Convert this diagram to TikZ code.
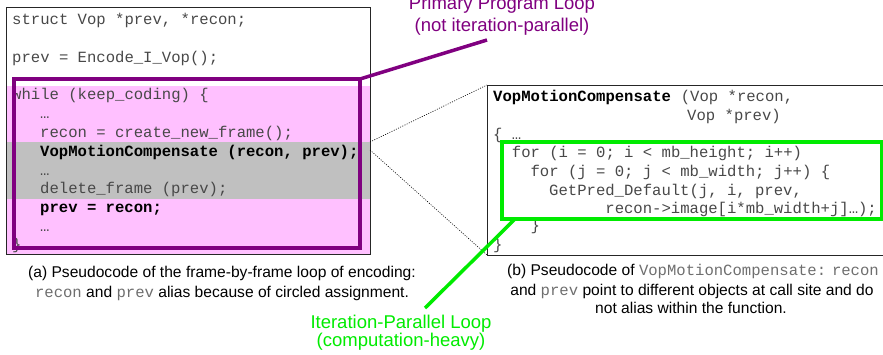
\documentclass[tikz,border=0pt]{standalone}
\usepackage{fontspec}
\setmainfont{Liberation Sans}
\newfontfamily\codefont{Liberation Mono}[WordSpace={1,0,0}]

\definecolor{loopfill}{RGB}{255,192,255}
\definecolor{bandgray}{RGB}{192,192,192}
\definecolor{loopviolet}{RGB}{128,0,128}
\definecolor{pargreen}{RGB}{0,235,0}
\definecolor{codegray}{RGB}{72,72,72}
\definecolor{capcode}{RGB}{110,110,110}

\newcommand{\capc}[1]{{\codefont\color{capcode}#1}}

\tikzset{
  code/.style={anchor=base west, inner sep=0pt, text=codegray,
    font=\codefont\fontsize{15.6}{18}\selectfont},
  boldcode/.style={code, text=black,
    font=\codefont\fontsize{15.6}{18}\selectfont\bfseries},
  caption/.style={anchor=base, inner sep=0pt,
    font=\fontsize{15.6}{19}\selectfont},
  callout/.style={anchor=base, inner sep=0pt,
    font=\fontsize{18.5}{22}\selectfont},
  region/.style={anchor=north west, inner sep=0pt, outer sep=0pt},
  frame/.style={region, draw=black!85, line width=0.8pt},
  loopline/.style={loopviolet, line width=3.5pt},
  parline/.style={pargreen, line width=3.5pt},
  link/.style={line width=0.6pt, dash pattern=on 1pt off 1.4pt}
}

\begin{document}
\begin{tikzpicture}[x=1pt,y=-1pt]
\useasboundingbox (0,0) rectangle (883,354);

% ---- encoder loop: shaded regions
\node[region, fill=loopfill, minimum width=364, minimum height=168] (loopband) at (6,86) {};
\node[region, fill=bandgray, minimum width=364, minimum height=57] (callband) at (6,142) {};

% ---- encoder loop: code
\node[code] (l1) at (12,24) {struct Vop *prev, *recon;};
\node[code] (l2) at (12,62) {prev = Encode\_I\_Vop();};
\node[code] (l3) at (12,99) {while (keep\_coding) \{};
\node[code] (l4) at (40,118) {…};
\node[code] (l5) at (40,137) {recon = create\_new\_frame();};
\node[boldcode] (l6) at (40,156) {VopMotionCompensate (recon, prev);};
\node[code] (l7) at (40,175) {…};
\node[code] (l8) at (40,193) {delete\_frame (prev);};
\node[boldcode] (l9) at (40,212) {prev = recon;};
\node[code] (l10) at (40,231) {…};
\node[code] (l11) at (12,249) {\}};

% ---- primary loop outline and outer frame
\node[region, draw=loopviolet, line width=3.5pt, minimum width=346, minimum height=169] (loopbox) at (14,79) {};
\node[frame, minimum width=364, minimum height=247] (encbox) at (6,7) {};

% ---- function body
\node[frame, minimum width=400, minimum height=170] (funcbox) at (487,85) {};
\node[boldcode] (f1) at (493,101.7) {VopMotionCompensate};
\node[code, anchor=base west] (f1b) at (f1.base east) {~(Vop *recon,};
\node[code] (f2) at (687,120.4) {Vop *prev)};
\node[code] (f3) at (493,139.1) {\{ …};
\node[code] (f4) at (511.7,157.8) {for (i = 0; i < mb\_height; i++)};
\node[code] (f5) at (530.4,176.5) {for (j = 0; j < mb\_width; j++) \{};
\node[code] (f6) at (549,195.2) {GetPred\_Default(j, i, prev,};
\node[code] (f7) at (605.2,213.9) {recon->image[i*mb\_width+j]…);};
\node[code] (f8) at (530.4,230.6) {\}};
\node[code] (f9) at (493,249.5) {\}};

% ---- iteration-parallel outline
\node[region, draw=pargreen, line width=3.5pt, minimum width=380, minimum height=77] (parbox) at (502,142) {};

% ---- call site links
\coordinate (callsite) at (370,150);
\draw[link] (callband.north east) -- (funcbox.north west);
\draw[link] (callsite) -- (funcbox.south west);

% ---- captions
\node[caption] (capa1) at (222,277) {(a) Pseudocode of the frame-by-frame loop of encoding:};
\node[caption] (capa2) at (222,297) {\capc{recon} and \capc{prev} alias because of circled assignment.};
\node[caption] (capb1) at (693,275) {(b) Pseudocode of \capc{VopMotionCompensate:} \capc{recon}};
\node[caption] (capb2) at (692,295) {and \capc{prev} point to different objects at call site and do};
\node[caption] (capb3) at (691,313) {not alias within the function.};

% ---- callouts
\node[callout, text=loopviolet] (primlbl1) at (502,9.5) {Primary Program Loop};
\node[callout, text=loopviolet] (primlbl2) at (502,31) {(not iteration-parallel)};
\coordinate (primtip) at (487,40);
\draw[loopline] (loopbox.north east) -- (primtip);

\node[callout, text=pargreen] (parlbl1) at (401,328) {Iteration-Parallel Loop};
\node[callout, text=pargreen] (parlbl2) at (401,346) {(computation-heavy)};
\coordinate (partail) at (515,219);
\coordinate (partip) at (425,308);
\draw[parline] (partail) -- (partip);
\end{tikzpicture}
\end{document}
